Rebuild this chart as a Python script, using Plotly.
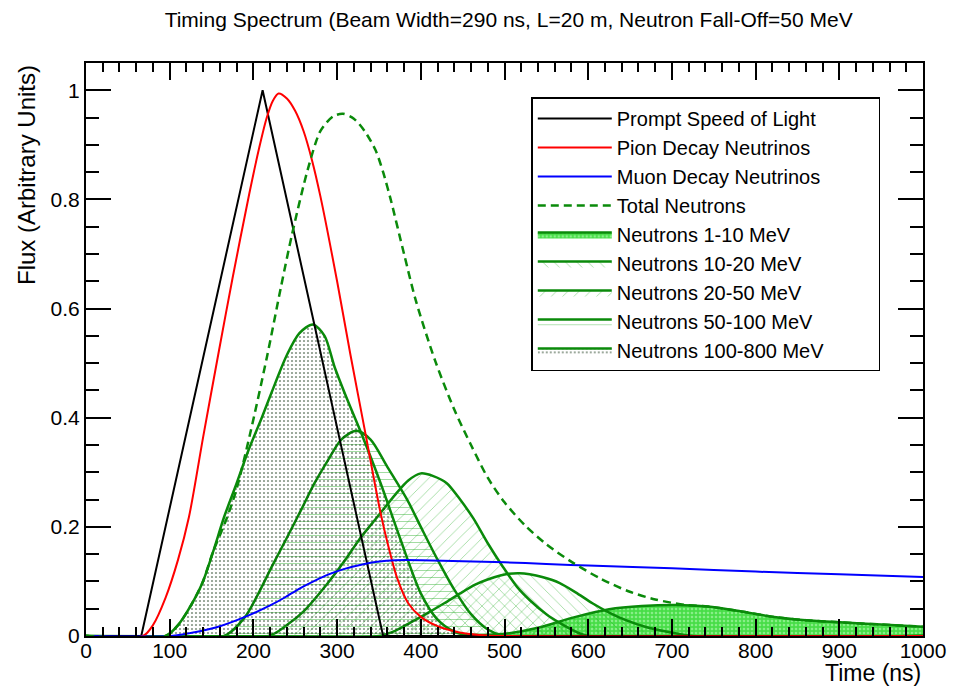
import plotly.graph_objects as go

# ---------------- data ----------------
t_prompt = [0, 66, 211, 355, 1000]
flux_prompt = [0, 0, 1.0, 0, 0]

t_pion = [0, 68, 80, 95, 110, 123, 140, 159, 175, 195, 207, 216, 223, 230, 240, 250, 260, 270,
          280, 300, 316, 334, 352, 362, 372, 385, 400, 420, 445, 470, 500, 1000]
flux_pion = [0, 0, 0.02, 0.07, 0.14, 0.218, 0.365, 0.524, 0.655, 0.81, 0.895, 0.95, 0.98, 0.994,
             0.985, 0.962, 0.925, 0.872, 0.806, 0.65, 0.515, 0.37, 0.225, 0.16, 0.105, 0.06,
             0.035, 0.018, 0.007, 0.002, 0, 0]

t_muon = [0, 101, 130, 160, 190, 220, 238, 254, 273, 290, 309, 330, 348, 370, 400, 450, 500,
          550, 600, 700, 800, 900, 1000]
flux_muon = [0, 0, 0.007, 0.018, 0.035, 0.056, 0.071, 0.086, 0.101, 0.113, 0.123, 0.131, 0.136,
             0.139, 0.139, 0.137, 0.135, 0.132, 0.129, 0.124, 0.118, 0.113, 0.108]

t_total = [0, 95, 110, 125, 139, 152, 168, 180, 196, 216, 233, 246, 265, 280, 295, 307, 320, 333,
           346, 355, 364, 380, 394, 417, 440, 460, 480, 500, 525, 550, 581, 615, 648, 680, 716,
           743, 783, 822, 860, 901, 950, 1000]
flux_total = [0, 0, 0.02, 0.055, 0.097, 0.155, 0.215, 0.27, 0.37, 0.51, 0.64, 0.735, 0.855,
              0.925, 0.952, 0.957, 0.948, 0.925, 0.89, 0.85, 0.80, 0.70, 0.615, 0.505, 0.415,
              0.35, 0.29, 0.245, 0.202, 0.168, 0.135, 0.105, 0.082, 0.067, 0.057, 0.054, 0.045,
              0.035, 0.029, 0.025, 0.021, 0.017]

t_n1_10 = [0, 450, 480, 506, 540, 585, 625, 664, 704, 743, 783, 822, 860, 901, 950, 1000]
flux_n1_10 = [0, 0, 0.002, 0.005, 0.015, 0.035, 0.049, 0.055, 0.057, 0.054, 0.045, 0.035,
              0.029, 0.025, 0.021, 0.017]

t_n10_20 = [0, 350, 370, 388, 408, 428, 447, 465, 479, 495, 505, 518, 530, 545, 566, 585, 605,
            625, 645, 670, 704, 725, 1000]
flux_n10_20 = [0, 0, 0.01, 0.025, 0.042, 0.06, 0.078, 0.094, 0.103, 0.111, 0.114, 0.115, 0.113,
               0.108, 0.097, 0.08, 0.06, 0.043, 0.029, 0.016, 0.005, 0, 0]

t_n20_50 = [0, 218, 240, 260, 289, 310, 328, 348, 370, 385, 400, 415, 431, 447, 463, 480, 498,
            515, 530, 550, 566, 585, 600, 1000]
flux_n20_50 = [0, 0, 0.02, 0.045, 0.097, 0.14, 0.18, 0.218, 0.26, 0.285, 0.298, 0.293, 0.28,
               0.25, 0.215, 0.17, 0.127, 0.09, 0.066, 0.04, 0.024, 0.008, 0, 0]

t_n50_100 = [0, 165, 190, 205, 222, 240, 257, 273, 289, 305, 323, 340, 360, 384, 400, 420, 440,
             460, 480, 500, 1000]
flux_n50_100 = [0, 0, 0.035, 0.075, 0.127, 0.18, 0.231, 0.28, 0.322, 0.36, 0.376, 0.36, 0.31,
                0.249, 0.2, 0.14, 0.085, 0.04, 0.012, 0, 0]

t_n100_800 = [0, 95, 110, 125, 139, 152, 165, 180, 194, 210, 226, 240, 255, 271, 285, 297, 313,
              329, 352, 375, 400, 420, 440, 460, 1000]
flux_n100_800 = [0, 0, 0.02, 0.055, 0.097, 0.155, 0.218, 0.28, 0.34, 0.40, 0.463, 0.515, 0.555,
                 0.571, 0.55, 0.493, 0.43, 0.371, 0.28, 0.18, 0.078, 0.03, 0.008, 0, 0]

title_text = "Timing Spectrum (Beam Width=290 ns, L=20 m, Neutron Fall-Off=50 MeV"
x_title = "Time (ns)"
y_title = "Flux (Arbitrary Units)"

# ---------------- styling ----------------
FONT = "Liberation Sans, Arial, Helvetica, sans-serif"
GREEN = "#0a8a0a"
HATCH = "rgba(30,170,30,0.85)"
PAD = "\u00a0" * 9  # widens the legend box to the reference's width

fig = go.Figure()

neutron_bands = [
    ("Neutrons 1-10 MeV", t_n1_10, flux_n1_10,
     dict(shape=".", fgcolor="#c8ffc8", bgcolor="rgba(40,215,40,0.85)", size=4, solidity=0.35), 5),
    ("Neutrons 10-20 MeV", t_n10_20, flux_n10_20,
     dict(shape="\\", fgcolor=HATCH, bgcolor="rgba(0,0,0,0)", size=8, solidity=0.11), 6),
    ("Neutrons 20-50 MeV", t_n20_50, flux_n20_50,
     dict(shape="/", fgcolor=HATCH, bgcolor="rgba(0,0,0,0)", size=8, solidity=0.11), 7),
    ("Neutrons 50-100 MeV", t_n50_100, flux_n50_100,
     dict(shape="-", fgcolor=HATCH, bgcolor="rgba(0,0,0,0)", size=7, solidity=0.14), 8),
    ("Neutrons 100-800 MeV" + PAD, t_n100_800, flux_n100_800,
     dict(shape=".", fgcolor="#0b2b0b", bgcolor="rgba(0,0,0,0)", size=4, solidity=0.24), 9),
]

for name, tx, fy, pat, rank in neutron_bands:
    fig.add_trace(go.Scatter(
        x=tx, y=fy, name=name, mode="lines",
        line=dict(color=GREEN, width=2.5, shape="spline", smoothing=0.8),
        fill="tozeroy", fillcolor="rgba(0,0,0,0)", fillpattern=pat,
        legendrank=rank, hoverinfo="skip"))

fig.add_trace(go.Scatter(x=t_prompt, y=flux_prompt, name="Prompt Speed of Light", mode="lines",
                         line=dict(color="black", width=2), legendrank=1))
fig.add_trace(go.Scatter(x=t_pion, y=flux_pion, name="Pion Decay Neutrinos", mode="lines",
                         line=dict(color="#ff0000", width=2, shape="spline", smoothing=0.8),
                         legendrank=2))
fig.add_trace(go.Scatter(x=t_muon, y=flux_muon, name="Muon Decay Neutrinos", mode="lines",
                         line=dict(color="#0000ff", width=2, shape="spline", smoothing=0.8),
                         legendrank=3))
fig.add_trace(go.Scatter(x=t_total, y=flux_total, name="Total Neutrons", mode="lines",
                         line=dict(color=GREEN, width=2.5, dash="8px,5px", shape="spline",
                                   smoothing=0.8),
                         legendrank=4))

axis_common = dict(
    showline=True, linecolor="black", linewidth=2, mirror="allticks",
    ticks="inside", tickcolor="black", tickwidth=2,
    showgrid=False, zeroline=False,
    tickfont=dict(family=FONT, size=21, color="black"),
)

fig.update_xaxes(range=[0, 1000], tickmode="linear", tick0=0, dtick=100, ticklen=17,
                 ticklabelstandoff=-5,
                 minor=dict(ticks="inside", dtick=20, ticklen=9, tickcolor="black", tickwidth=1.5),
                 **axis_common)
fig.update_yaxes(range=[0, 1.05], tickmode="linear", tick0=0, dtick=0.2, ticklen=25,
                 minor=dict(ticks="inside", dtick=0.05, ticklen=13, tickcolor="black",
                            tickwidth=1.5),
                 **axis_common)

fig.update_layout(
    width=958, height=689,
    margin=dict(l=86, r=28, t=63, b=53),
    paper_bgcolor="white", plot_bgcolor="white",
    font=dict(family=FONT, color="black"),
    title=dict(text=title_text, x=0.531, xanchor="center", y=1 - 20 / 689, yanchor="middle",
               font=dict(family=FONT, size=21, color="black")),
    legend=dict(x=0.532, y=0.94, xanchor="left", yanchor="top",
                bgcolor="white", bordercolor="black", borderwidth=1.5,
                font=dict(family=FONT, size=20, color="black"),
                itemwidth=74, tracegroupgap=0),
    showlegend=True,
    annotations=[
        dict(text=x_title, xref="paper", yref="paper", x=1, y=0, xanchor="right",
             yanchor="bottom", yshift=-52, showarrow=False,
             font=dict(family=FONT, size=23, color="black")),
        dict(text=y_title, xref="paper", yref="paper", x=0, y=1, xanchor="center",
             yanchor="top", xshift=-60, textangle=-90, showarrow=False,
             font=dict(family=FONT, size=24, color="black")),
    ],
)

fig.write_html("out.html")
